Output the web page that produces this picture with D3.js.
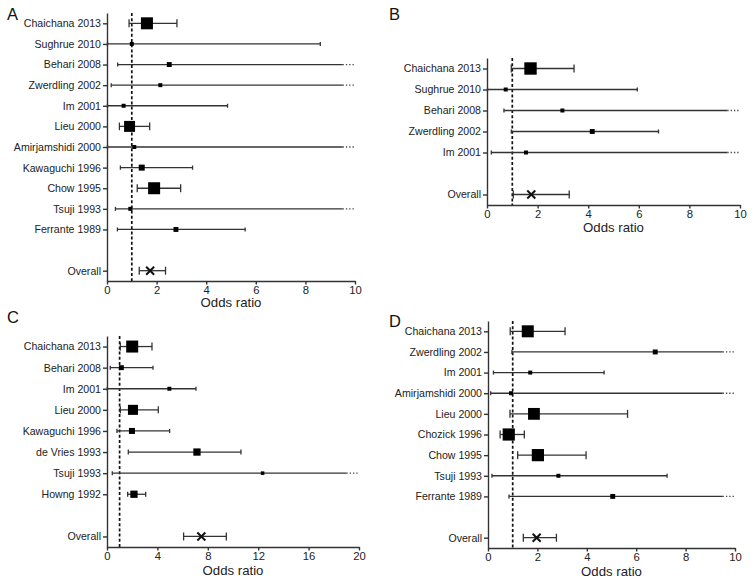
<!DOCTYPE html>
<html>
<head>
<meta charset="utf-8">
<script src="https://cdn.jsdelivr.net/npm/d3@7"></script>
<style>
  body { margin: 0; background: #fff; }
  svg { display: block; font-family: "Liberation Sans", Arial, sans-serif; }
  .axis path, .axis line { stroke: #333; stroke-width: 1.4; }
  .axis text { fill: #222; }
</style>
</head>
<body>
<div id="chart"></div>
<script>
// ---------------- data ----------------
// odds ratio, lower CI, upper CI (Infinity = off the scale), weight (square area)

const studiesA = ["Chaichana 2013", "Sughrue 2010", "Behari 2008", "Zwerdling 2002", "Im 2001", "Lieu 2000",
  "Amirjamshidi 2000", "Kawaguchi 1996", "Chow 1995", "Tsuji 1993", "Ferrante 1989"];
const orA = [1.61, 1.0, 2.51, 2.15, 0.67, 0.91, 1.1, 1.4, 1.9, 0.94, 2.78];
const loA = [0.89, 0.02, 0.43, 0.17, 0.02, 0.5, 0.02, 0.54, 1.22, 0.34, 0.42];
const hiA = [2.82, 8.6, Infinity, Infinity, 4.86, 1.72, Infinity, 3.45, 2.97, Infinity, 5.57];
const wA = [30, 3.3, 5, 3.3, 3.3, 25, 3.3, 7.5, 30, 3.3, 5];
const overallA = [1.74, 1.3, 2.36];

const studiesB = ["Chaichana 2013", "Sughrue 2010", "Behari 2008", "Zwerdling 2002", "Im 2001"];
const orB = [1.72, 0.74, 2.98, 4.16, 1.54];
const loB = [0.96, 0.02, 0.67, 0.96, 0.17];
const hiB = [3.44, 5.94, Infinity, 6.78, Infinity];
const wB = [32, 3.3, 3.3, 5, 3.3];
const overallB = [1.75, 1.04, 3.25];

const studiesC = ["Chaichana 2013", "Behari 2008", "Im 2001", "Lieu 2000", "Kawaguchi 1996",
  "de Vries 1993", "Tsuji 1993", "Howng 1992"];
const orC = [2.0, 1.14, 4.95, 2.06, 1.98, 7.14, 12.35, 2.14];
const loC = [1.06, 0.26, 0.02, 1.06, 0.79, 1.69, 0.42, 1.64];
const hiC = [3.57, 3.65, 7.06, 4.07, 4.97, 10.63, Infinity, 3.07];
const wC = [30, 5, 3.3, 21, 7.5, 11, 2.6, 11];
const overallC = [7.49, 6.08, 9.47];

const studiesD = ["Chaichana 2013", "Zwerdling 2002", "Im 2001", "Amirjamshidi 2000", "Lieu 2000",
  "Chozick 1996", "Chow 1995", "Tsuji 1993", "Ferrante 1989"];
const orD = [1.61, 6.77, 1.71, 0.93, 1.86, 0.84, 2.02, 2.85, 5.05];
const loD = [0.9, 0.97, 0.22, 0.11, 0.89, 0.49, 1.2, 0.16, 0.85];
const hiD = [3.12, Infinity, 4.7, Infinity, 5.65, 1.47, 3.97, 7.25, Infinity];
const wD = [30, 5, 3.3, 3.3, 29, 31, 31, 3.3, 5];
const overallD = [1.97, 1.43, 2.77];

const ticks10 = [0, 2, 4, 6, 8, 10];
const ticks20 = [0, 4, 8, 12, 16, 20];

// ---------------- svg ----------------
const width = 753, height = 583;
const svg = d3.select("#chart").append("svg")
  .attr("width", width)
  .attr("height", height);

const sizeScale = d3.scaleSqrt().domain([0, 30]).range([0, 12]);

const panels = [
  { letter: "A", names: studiesA, or: orA, lo: loA, hi: hiA, w: wA, overall: overallA, max: 10, ticks: ticks10,
    x: [107, 355], y: [13, 281], lx: 7, ly: 20, titleY: 307 },
  { letter: "B", names: studiesB, or: orB, lo: loB, hi: hiB, w: wB, overall: overallB, max: 10, ticks: ticks10,
    x: [487, 740], y: [58, 205], lx: 389, ly: 20, titleY: 232 },
  { letter: "C", names: studiesC, or: orC, lo: loC, hi: hiC, w: wC, overall: overallC, max: 20, ticks: ticks20,
    x: [107, 359], y: [336, 547], lx: 7, ly: 323, titleY: 575 },
  { letter: "D", names: studiesD, or: orD, lo: loD, hi: hiD, w: wD, overall: overallD, max: 10, ticks: ticks10,
    x: [488, 735], y: [321, 548], lx: 389, ly: 327, titleY: 576 }
];

panels.forEach(drawPanel);

function drawPanel(p) {
  const n = p.names.length;
  const overallRow = n + 1;
  const xScale = d3.scaleLinear().domain([0, p.max]).range(p.x);
  const yScale = d3.scaleLinear().domain([-0.5, n + 1.5]).range(p.y);
  const g = svg.append("g");

  const rows = p.names.map((name, i) => ({
    name: name, row: i, or: p.or[i], lo: p.lo[i], hi: p.hi[i], w: p.w[i]
  }));

  // reference line at OR = 1
  g.append("line")
    .attr("x1", xScale(1)).attr("x2", xScale(1))
    .attr("y1", p.y[0]).attr("y2", p.y[1])
    .attr("stroke", "#111")
    .attr("stroke-width", 1.7)
    .attr("stroke-dasharray", "3,2.2");

  // axes
  const xAxis = d3.axisBottom(xScale).tickValues(p.ticks).tickSize(3.5).tickSizeOuter(0).tickPadding(1);
  g.append("g").attr("class", "axis")
    .attr("transform", "translate(0," + p.y[1] + ")")
    .call(xAxis)
    .selectAll("text").attr("font-size", 11.3);

  const yAxis = d3.axisLeft(yScale)
    .tickValues(d3.range(n).concat([overallRow]))
    .tickFormat(i => i === overallRow ? "Overall" : p.names[i])
    .tickSize(4).tickSizeOuter(0).tickPadding(2);
  g.append("g").attr("class", "axis")
    .attr("transform", "translate(" + p.x[0] + ",0)")
    .call(yAxis)
    .selectAll("text").attr("font-size", 10.6);

  // whiskers
  const solidMax = p.max * 0.95;
  g.selectAll(".ci").data(rows).enter().append("line")
    .attr("x1", d => xScale(d.lo))
    .attr("x2", d => xScale(Math.min(d.hi, d.hi > p.max ? solidMax : d.hi)))
    .attr("y1", d => yScale(d.row)).attr("y2", d => yScale(d.row))
    .attr("stroke", "#333").attr("stroke-width", 1.3);

  // dotted continuation for off-scale upper limits
  g.selectAll(".cont").data(rows.filter(d => d.hi > p.max)).enter().append("line")
    .attr("x1", xScale(solidMax)).attr("x2", xScale(p.max))
    .attr("y1", d => yScale(d.row)).attr("y2", d => yScale(d.row))
    .attr("stroke", "#444").attr("stroke-width", 1.3)
    .attr("stroke-dasharray", "1.3,2");

  // caps
  const capH = d => Math.max(4, Math.min(8, sizeScale(d.w) * 0.7));
  rows.forEach(d => {
    const ends = [d.lo];
    if (d.hi <= p.max) ends.push(d.hi);
    ends.forEach(v => {
      g.append("line")
        .attr("x1", xScale(v)).attr("x2", xScale(v))
        .attr("y1", yScale(d.row) - capH(d) / 2).attr("y2", yScale(d.row) + capH(d) / 2)
        .attr("stroke", "#333").attr("stroke-width", 1.3);
    });
  });

  // squares
  g.selectAll(".sq").data(rows).enter().append("rect")
    .attr("x", d => xScale(d.or) - sizeScale(d.w) / 2)
    .attr("y", d => yScale(d.row) - sizeScale(d.w) / 2)
    .attr("width", d => sizeScale(d.w))
    .attr("height", d => sizeScale(d.w))
    .attr("fill", "#000");

  // overall estimate
  const [oOr, oLo, oHi] = p.overall;
  const oy = yScale(overallRow);
  g.append("line")
    .attr("x1", xScale(oLo)).attr("x2", xScale(oHi))
    .attr("y1", oy).attr("y2", oy)
    .attr("stroke", "#333").attr("stroke-width", 1.3);
  [oLo, oHi].forEach(v => {
    g.append("line")
      .attr("x1", xScale(v)).attr("x2", xScale(v))
      .attr("y1", oy - 4).attr("y2", oy + 4)
      .attr("stroke", "#333").attr("stroke-width", 1.3);
  });
  const s = 4;
  g.append("path")
    .attr("d", "M" + (xScale(oOr) - s) + "," + (oy - s) + "L" + (xScale(oOr) + s) + "," + (oy + s) +
      "M" + (xScale(oOr) - s) + "," + (oy + s) + "L" + (xScale(oOr) + s) + "," + (oy - s))
    .attr("stroke", "#111").attr("stroke-width", 2).attr("fill", "none");

  // axis title
  g.append("text")
    .attr("x", (p.x[0] + p.x[1]) / 2)
    .attr("y", p.titleY)
    .attr("text-anchor", "middle")
    .attr("font-size", 13.2)
    .attr("fill", "#222")
    .text("Odds ratio");

  // panel letter
  svg.append("text")
    .attr("x", p.lx).attr("y", p.ly)
    .attr("font-size", 16.5)
    .attr("fill", "#111")
    .text(p.letter);
}
</script>
</body>
</html>
